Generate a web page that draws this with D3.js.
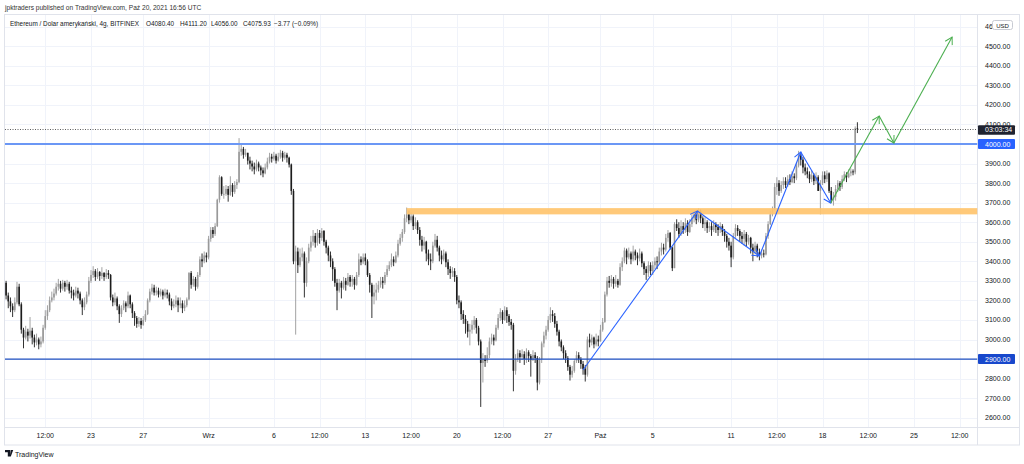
<!DOCTYPE html>
<html><head><meta charset="utf-8">
<script src="https://cdnjs.cloudflare.com/ajax/libs/d3/7.8.5/d3.min.js"></script>
<style>
body{margin:0;background:#fff}
svg{display:block}
text{font-family:"Liberation Sans",Arial,sans-serif}
</style>
</head><body>
<svg id="c" width="1024" height="464"></svg>
<script>
// ---------- DATA ----------
const startTime = "2021-08-16T12:00:00Z";   // first 4h candle
const firstOpen = 3290;
const closes = [
3225,3195,3170,
3150,3190,3270,3180,3050,3010, 3040,3020,3045,3010,2985,3000, 2975,2990,3060,3120,3150,3200,
3215,3235,3270,3285,3260,3290, 3270,3285,3250,3240,3225,3250, 3235,3200,3165,3190,3230,3300,
3330,3350,3320,3345,3325,3340, 3320,3340,3330,3215,3190,3210, 3170,3130,3160,3185,3170,3225,
3180,3135,3110,3080,3095,3075, 3100,3130,3200,3245,3265,3240, 3250,3230,3245,3225,3240,3230,
3195,3170,3180,3200,3175,3185, 3160,3175,3205,3340,3280,3310, 3270,3330,3410,3400,3430,3420,
3515,3560,3540,3580,3715,3830, 3745,3745,3770,3740,3790,3755, 3790,3805,3960,3975,3945,3955,
3915,3900,3885,3870,3900,3880, 3865,3850,3880,3910,3935,3925, 3940,3915,3935,3955,3930,3945,
3930,3895,3760,3400,3450,3380, 3420,3440,3290,3400,3470,3500, 3530,3495,3545,3520,3555,3500,
3470,3430,3400,3360,3290,3250, 3290,3265,3300,3280,3320,3295, 3310,3280,3330,3410,3395,3420,
3400,3330,3280,3220,3240,3255, 3280,3300,3290,3330,3360,3380, 3410,3395,3430,3490,3520,3550,
3620,3640,3610,3630,3580,3600, 3560,3510,3480,3500,3440,3410, 3400,3480,3510,3470,3430,3410,
3440,3395,3360,3340,3350,3320, 3200,3190,3130,3105,3080,3040, 3050,3075,3100,3060,2990,2880,
2900,2890,2920,2990,3010,2995, 3060,3110,3140,3100,3150,3120, 3090,3075,2840,2900,2930,2910,
2925,2900,2935,2915,2895,2920, 2905,2780,2900,2980,3020,3050, 3100,3130,3120,3080,3040,2990,
2960,2930,2905,2860,2820,2840, 2890,2920,2900,2875,2850,2820, 3000,2985,3010,2975,3000,2990,
3050,3090,3230,3300,3290,3310, 3285,3300,3280,3370,3400,3455, 3420,3440,3410,3450,3430,3415,
3440,3390,3360,3340,3380,3350, 3380,3400,3395,3450,3470,3460, 3520,3545,3470,3365,3590,3570,
3540,3580,3560,3595,3550,3590, 3620,3640,3610,3655,3620,3590, 3600,3570,3580,3560,3590,3575,
3560,3580,3550,3530,3500,3480, 3420,3530,3570,3555,3530,3515, 3540,3500,3520,3470,3450,3480,
3445,3430,3440,3435,3530,3590, 3640,3665,3780,3800,3760,3790, 3810,3790,3820,3805,3835,3825,
3890,3940,3920,3880,3860,3845, 3820,3840,3810,3830,3760,3800, 3840,3820,3850,3760,3715,3730,
3770,3800,3780,3820,3845,3830, 3850,3860,3855,4080.40,4075.93
];
const highs = [
3300,3240,3215,
3185,3215,3295,3285,3190,3060, 3070,3055,3115,3060,3025,3030, 3010,3015,3075,3150,3175,3220,
3245,3260,3290,3310,3300,3305, 3300,3305,3295,3270,3255,3270, 3265,3245,3210,3215,3245,3320,
3355,3375,3360,3365,3350,3370, 3345,3360,3355,3335,3230,3240, 3220,3180,3175,3200,3195,3245,
3230,3190,3145,3120,3115,3110, 3120,3150,3210,3260,3285,3280, 3270,3265,3260,3255,3260,3255,
3240,3210,3205,3225,3215,3215, 3200,3200,3215,3345,3350,3325, 3320,3345,3425,3440,3450,3445,
3530,3575,3575,3595,3720,3840, 3835,3785,3790,3785,3835,3800, 3810,3820,4030,3995,3985,3975,
3950,3935,3915,3905,3920,3910, 3890,3880,3900,3930,3955,3950, 3960,3950,3955,3970,3965,3960,
3955,3935,3900,3770,3480,3470, 3465,3470,3450,3420,3490,3530, 3560,3545,3565,3560,3570,3560,
3510,3480,3450,3415,3370,3310, 3310,3300,3320,3315,3340,3330, 3330,3320,3345,3440,3425,3440,
3440,3410,3340,3290,3280,3290, 3300,3320,3320,3345,3380,3400, 3440,3425,3450,3510,3540,3565,
3640,3675,3660,3650,3640,3625, 3610,3575,3530,3525,3505,3460, 3440,3500,3540,3530,3480,3455,
3460,3450,3410,3375,3370,3365, 3330,3225,3200,3150,3125,3095, 3080,3100,3120,3110,3070,3000,
2930,2920,2960,3010,3030,3025, 3075,3130,3160,3150,3170,3165, 3130,3105,3085,2925,2950,2945,
2950,2940,2955,2945,2925,2945, 2935,2915,2910,2990,3040,3070, 3120,3165,3150,3135,3095,3050,
3000,2970,2945,2915,2870,2865, 2900,2940,2935,2910,2890,2870, 3015,3030,3025,3015,3030,3020,
3075,3110,3245,3320,3325,3330, 3320,3330,3310,3390,3420,3470, 3465,3470,3450,3480,3460,3445,
3465,3450,3400,3375,3400,3395, 3400,3420,3425,3470,3495,3490, 3540,3560,3550,3475,3600,3615,
3600,3610,3600,3620,3610,3615, 3640,3660,3650,3670,3665,3630, 3625,3610,3600,3600,3610,3600,
3590,3600,3590,3565,3540,3520, 3500,3545,3590,3585,3565,3550, 3560,3550,3535,3525,3490,3500,
3490,3465,3460,3460,3545,3605, 3660,3680,3800,3830,3815,3810, 3830,3830,3840,3845,3860,3850,
3905,3965,3950,3935,3900,3880, 3860,3865,3850,3855,3840,3815, 3860,3860,3865,3855,3780,3755,
3790,3815,3810,3840,3860,3855, 3870,3875,3870,4090,4111.20
];
const lows = [
3205,3160,3140,
3115,3140,3180,3170,3030,2955, 3000,2990,3005,2975,2960,2970, 2950,2960,2980,3050,3100,3140,
3190,3200,3225,3250,3240,3250, 3245,3255,3235,3210,3200,3215, 3210,3180,3125,3150,3180,3220,
3290,3315,3300,3310,3300,3310, 3300,3310,3310,3200,3170,3175, 3150,3085,3115,3150,3140,3160,
3160,3110,3070,3060,3065,3055, 3070,3090,3125,3190,3230,3225, 3225,3215,3220,3205,3215,3210,
3175,3150,3160,3165,3140,3160, 3135,3145,3165,3200,3260,3270, 3250,3260,3320,3370,3390,3395,
3410,3500,3520,3530,3575,3700, 3735,3720,3735,3705,3735,3730, 3745,3770,3800,3940,3925,3935,
3895,3870,3860,3845,3860,3860, 3840,3830,3845,3870,3900,3905, 3915,3900,3910,3925,3910,3920,
3905,3880,3740,3385,3025,3340, 3370,3400,3215,3270,3390,3450, 3480,3470,3480,3490,3505,3480,
3440,3400,3370,3300,3270,3150, 3240,3210,3255,3250,3275,3270, 3270,3255,3275,3320,3380,3385,
3380,3320,3240,3110,3180,3200, 3240,3265,3260,3280,3320,3350, 3370,3375,3390,3420,3480,3500,
3540,3600,3590,3595,3560,3565, 3540,3480,3450,3460,3400,3380, 3355,3390,3470,3450,3400,3385,
3400,3370,3330,3310,3320,3295, 3180,3160,3100,3080,3030,3010, 2970,3030,3050,3030,2970,2655,
2780,2860,2880,2905,2975,2970, 2990,3050,3095,3080,3095,3085, 3070,3050,2735,2820,2885,2880,
2895,2870,2880,2885,2810,2890, 2880,2740,2770,2880,2960,3000, 3040,3085,3090,3060,3020,2965,
2940,2900,2880,2840,2790,2805, 2830,2880,2880,2850,2820,2785, 2810,2960,2970,2955,2965,2965,
2990,3040,3085,3220,3265,3270, 3260,3270,3265,3275,3350,3390, 3385,3410,3385,3400,3405,3380,
3400,3370,3330,3305,3320,3330, 3330,3360,3360,3385,3430,3435, 3450,3500,3460,3350,3365,3555,
3520,3530,3540,3545,3530,3545, 3575,3600,3590,3600,3595,3570, 3555,3545,3550,3530,3550,3545,
3530,3545,3530,3500,3470,3455, 3370,3410,3520,3530,3500,3490, 3480,3475,3485,3440,3400,3435,
3420,3405,3415,3420,3430,3515, 3585,3630,3660,3740,3735,3750, 3770,3775,3780,3790,3800,3800,
3815,3880,3890,3850,3840,3825, 3800,3805,3790,3795,3760,3640, 3790,3800,3805,3750,3700,3685,
3710,3755,3760,3770,3810,3805, 3825,3835,3840,3845,4056.00
];
const priceTicks = [2600,2700,2800,2900,3000,3100,3200,3300,3400,3500,3600,3700,3800,3900,4000,4100,4200,4300,4400,4500,4600];
const timeTickDates = ["2021-08-19T12:00Z","2021-08-23T00:00Z","2021-08-27T00:00Z","2021-09-01T00:00Z","2021-09-06T00:00Z","2021-09-09T12:00Z","2021-09-13T00:00Z","2021-09-16T12:00Z","2021-09-20T00:00Z","2021-09-23T12:00Z","2021-09-27T00:00Z","2021-10-01T00:00Z","2021-10-05T00:00Z","2021-10-11T00:00Z","2021-10-14T12:00Z","2021-10-18T00:00Z","2021-10-21T12:00Z","2021-10-25T00:00Z","2021-10-28T12:00Z"];
const timeTickLabels = ["12:00","23","27","Wrz","6","12:00","13","12:00","20","12:00","27","Paź","5","11","12:00","18","12:00","25","12:00"];
const resistanceLevel = 4000;
const supportLevel = 2900;
const zoneStart = "2021-09-16T04:00Z";
const zoneTop = 3672, zoneBottom = 3640;
const lastPrice = 4075.93;
const countdown = "03:03:34";
const bluePath = [["2021-09-29T16:00Z",2844],["2021-10-08T10:00Z",3657],["2021-10-13T04:00Z",3427],["2021-10-16T08:00Z",3959],["2021-10-18T15:00Z",3698]];
const greenPath = [["2021-10-18T15:00Z",3698],["2021-10-22T08:00Z",4143],["2021-10-23T11:00Z",4005],["2021-10-27T22:00Z",4547]];
const headerText = "jpktraders published on TradingView.com, Paź 20, 2021 16:56 UTC";
const legendParts = ["Ethereum / Dolar amerykański, 4g, BITFINEX","O4080.40","H4111.20","L4056.00","C4075.93","−3.77 (−0.09%)"];

// ---------- LAYOUT ----------
const L = 5, R = 977.5, T = 15, B = 427.5, AX = 1019.5, BOT = 445;
const svg = d3.select("#c");
const x = d3.scaleUtc().domain([new Date("2021-08-23T00:00Z"), new Date("2021-10-25T00:00Z")]).range([91, 914]);
const y = d3.scaleLinear().domain([2600, 4000]).range([417.7, 144]);
const step = 4*3600*1000;
const t0 = new Date(startTime).getTime();
const candles = closes.map((c,i)=>({t:new Date(t0+i*step), o: i===0?firstOpen:closes[i-1], c, h:highs[i], l:lows[i]}));

const defs = svg.append("defs");
defs.append("clipPath").attr("id","plot").append("rect").attr("x",L).attr("y",T).attr("width",R-L).attr("height",B-T);
function marker(id,color){
  defs.append("marker").attr("id",id).attr("viewBox","-10 -6 12 12").attr("refX",0).attr("refY",0)
    .attr("markerWidth",12).attr("markerHeight",12).attr("markerUnits","userSpaceOnUse").attr("orient","auto")
    .append("path").attr("d","M-7,-4L0,0L-7,4").attr("fill","none").attr("stroke",color).attr("stroke-width",1);
}
marker("ab","#2962ff"); marker("ag","#4caf50");

// header
svg.append("text").attr("x",5).attr("y",10).attr("font-size",6.6).attr("fill","#333").text(headerText);

// frame
svg.append("rect").attr("x",4.5).attr("y",14.5).attr("width",AX-4.5).attr("height",BOT-14.5).attr("fill","none").attr("stroke","#e0e3eb");

// grid
const grid = svg.append("g").attr("stroke","#f0f3fa").attr("stroke-width",1);
priceTicks.forEach(p=>{ const yy=Math.round(y(p))+0.5; if(yy>T && yy<B) grid.append("line").attr("x1",L).attr("x2",R).attr("y1",yy).attr("y2",yy);});
timeTickDates.forEach(d=>{ const xx=Math.round(x(new Date(d)))+0.5; grid.append("line").attr("x1",xx).attr("x2",xx).attr("y1",T).attr("y2",B);});

// axes separators
svg.append("line").attr("x1",R).attr("x2",R).attr("y1",14.5).attr("y2",BOT).attr("stroke","#e0e3eb");
svg.append("line").attr("x1",4.5).attr("x2",AX).attr("y1",B).attr("y2",B).attr("stroke","#e0e3eb");

const plot = svg.append("g").attr("clip-path","url(#plot)");

// candles
const up = "#999999", dn = "#1c1c1c";
const cg = plot.append("g");
candles.forEach(d=>{
  const cx = x(d.t);
  const col = d.c >= d.o ? up : dn;
  const hi = Math.max(d.h, d.o, d.c), lo = Math.min(d.l, d.o, d.c);
  cg.append("line").attr("x1",cx).attr("x2",cx).attr("y1",y(hi)).attr("y2",y(lo)).attr("stroke",col).attr("stroke-width",0.9);
  const top = y(Math.max(d.o,d.c)), bot = y(Math.min(d.o,d.c));
  cg.append("rect").attr("x",cx-0.8).attr("width",1.6).attr("y",top).attr("height",Math.max(0.8,bot-top)).attr("fill",col);
});

// zone
plot.append("rect").attr("x",x(new Date(zoneStart))).attr("y",y(zoneTop)).attr("width",R-x(new Date(zoneStart))).attr("height",y(zoneBottom)-y(zoneTop)).attr("fill","#ffc46e").attr("opacity",0.92);

// levels
plot.append("line").attr("x1",L).attr("x2",R).attr("y1",y(resistanceLevel)).attr("y2",y(resistanceLevel)).attr("stroke","#6b97f5").attr("stroke-width",1.8);
plot.append("line").attr("x1",L).attr("x2",R).attr("y1",y(supportLevel)).attr("y2",y(supportLevel)).attr("stroke","#1e4fc0").attr("stroke-width",1.3);
// last price dotted
plot.append("line").attr("x1",L).attr("x2",R).attr("y1",Math.round(y(lastPrice))+0.5).attr("y2",Math.round(y(lastPrice))+0.5).attr("stroke","#333").attr("stroke-width",0.8).attr("stroke-dasharray","1,1.5");

// path drawings
function drawPath(pts,color,mk){
  for(let i=0;i<pts.length-1;i++){
    const a=pts[i], b=pts[i+1];
    plot.append("line").attr("x1",x(new Date(a[0]))).attr("y1",y(a[1])).attr("x2",x(new Date(b[0]))).attr("y2",y(b[1]))
      .attr("stroke",color).attr("stroke-width",1.1).attr("marker-end",`url(#${mk})`);
  }
}
drawPath(bluePath,"#2962ff","ab");
drawPath(greenPath,"#4caf50","ag");

// price axis labels
const pa = svg.append("g").attr("font-size",7).attr("fill","#131722");
priceTicks.forEach(p=>{ const yy=y(p); if(yy>18 && yy<B){
  const t = pa.append("text").attr("x",985).attr("y",yy+2.5);
  if (yy < 32) t.text(String(p).slice(0,2)); else t.text(p.toFixed(2));
}});
// USD badge
svg.append("rect").attr("x",992.5).attr("y",20.5).attr("width",20).attr("height",9).attr("rx",2).attr("fill","#fff").attr("stroke","#c8cbd3");
svg.append("text").attr("x",1002.5).attr("y",27.5).attr("text-anchor","middle").attr("font-size",6).attr("fill","#131722").text("USD");
// level badges
function badge(p,color,txt){
  const yy=y(p);
  svg.append("rect").attr("x",978).attr("y",yy-5).attr("width",37).attr("height",10).attr("rx",1).attr("fill",color);
  svg.append("text").attr("x",985).attr("y",yy+2.5).attr("font-size",7).attr("fill","#fff").text(txt);
}
badge(resistanceLevel,"#2962ff",resistanceLevel.toFixed(2));
badge(supportLevel,"#1848cc",supportLevel.toFixed(2));
// countdown badge
{
  const yy=y(lastPrice)+0.5;
  svg.append("rect").attr("x",978).attr("y",yy-4.5).attr("width",37).attr("height",9.5).attr("rx",1).attr("fill","#1f2330");
  svg.append("text").attr("x",985).attr("y",yy+2.6).attr("font-size",7).attr("fill","#fff").text(countdown);
}

// time axis labels
const ta = svg.append("g").attr("font-size",7).attr("fill","#131722").attr("text-anchor","middle");
timeTickDates.forEach((d,i)=>{ ta.append("text").attr("x",x(new Date(d))).attr("y",438).text(timeTickLabels[i]); });

// legend
const legX = [10,146,180,211,243,274];
const lg = svg.append("g").attr("font-size",6.4).attr("fill","#131722");
legendParts.forEach((s,i)=> lg.append("text").attr("x",legX[i]).attr("y",26).text(s));

// TradingView footer
const f = svg.append("g");
f.append("path").attr("d","M5,450h5v6.5h-2.2v-4.3h-2.8z M10.6,450h2.6l-2.4,6.5h-1z").attr("fill","#131722");
f.append("text").attr("x",15).attr("y",456.5).attr("font-size",7).attr("fill","#131722").text("TradingView");
</script>
</body></html>
